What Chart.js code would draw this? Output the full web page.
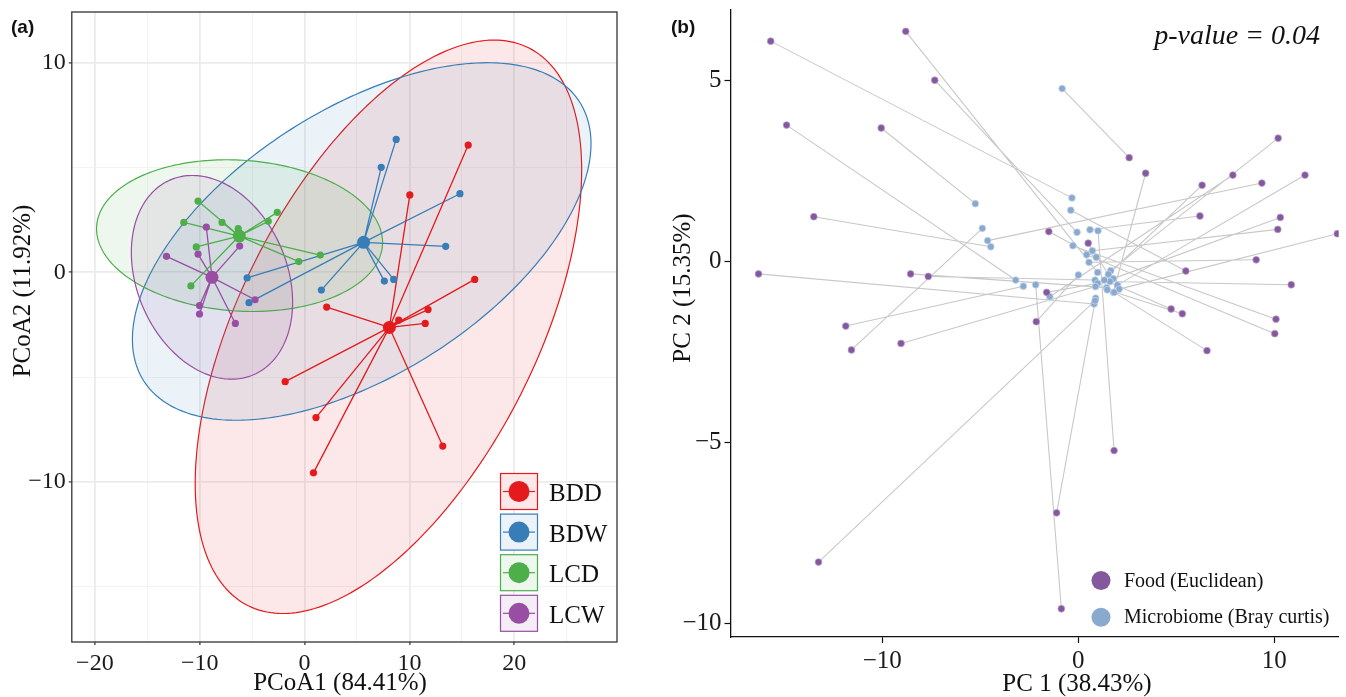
<!DOCTYPE html>
<html>
<head>
<meta charset="utf-8">
<script src="https://cdn.jsdelivr.net/npm/chart.js@4.4.1/dist/chart.umd.min.js"></script>
<style>
  html, body { margin: 0; padding: 0; background: #fff; overflow: hidden; }
  #wrapA { position: absolute; left: 0; top: 0; width: 640px; height: 697px; }
  #wrapB { position: absolute; left: 660px; top: 0; width: 686px; height: 697px; }
</style>
</head>
<body>
<div id="wrapA"><canvas id="chartA" width="640" height="697"></canvas></div>
<div id="wrapB"><canvas id="chartB" width="686" height="697"></canvas></div>
<script>
// ---- panel (a) data: PCoA of groups ----
const groupNames = ["BDD", "BDW", "LCD", "LCW"];
const groupColors = ["#E41A1C", "#377EB8", "#4DAF4A", "#984EA3"];

const bddX = [15.61, 10.04, 16.23, 2.11, 11.78, 11.51, 8.98, -1.85, 1.09, 13.18, 0.85];
const bddY = [6.07, 3.69, -0.34, -1.66, -1.78, -2.44, -2.28, -5.22, -6.93, -8.29, -9.57];
const bdwX = [8.74, 7.31, 14.82, 13.46, 7.61, 8.50, 1.60, -5.48, -5.30];
const bdwY = [6.34, 5.01, 3.75, 1.24, -0.42, -0.34, -0.85, -0.27, -1.45];
const lcdX = [-10.16, -11.52, -7.87, -6.33, -2.60, -3.46, -10.33, 1.50, -0.55, -10.84];
const lcdY = [3.40, 2.38, 2.38, 2.08, 2.86, 2.43, 1.21, 0.82, 0.51, -0.65];
const lcwX = [-9.37, -13.17, -10.16, -6.19, -4.72, -10.02, -10.02, -6.60];
const lcwY = [2.16, 0.76, 0.87, 1.25, -1.31, -1.59, -1.99, -2.44];

const centroidX = [8.09, 5.63, -6.23, -8.83];
const centroidY = [-2.63, 1.43, 1.73, -0.24];

// 95% ellipses: centre, half extents and correlation
const ellipseCX = [8.0, 5.45, -6.2, -8.83];
const ellipseCY = [-2.6, 1.47, 1.75, -0.24];
const ellipseSX = [18.43, 21.87, 13.64, 7.69];
const ellipseSY = [13.68, 8.53, 3.62, 4.86];
const ellipseR = [0.547, 0.547, -0.09, -0.244];

// ---- panel (b) data: procrustes food vs microbiome ----
const foodX = [-15.69, -8.80, -7.32, -14.88, -10.05, 2.60, 3.44, 10.20, 7.89, 11.57, 6.32, 9.37, 6.21, 10.31, 10.18, 13.22, -13.49, -1.50, 0.51, 9.08, 5.49, -16.31, -8.55, -7.65, 10.87, -1.61, 4.74, 5.31, -2.14, 10.09, 10.03, -11.86, -9.04, -11.57, 6.57, 1.83, -1.10, -13.25, -0.86];
const foodY = [6.09, 6.36, 5.01, 3.77, 3.69, 2.87, 2.44, 3.41, 2.39, 2.39, 2.11, 2.17, 1.26, 1.22, 0.89, 0.77, 1.24, 0.83, 0.51, 0.05, -0.26, -0.34, -0.34, -0.41, -0.64, -0.85, -1.31, -1.44, -1.66, -1.59, -1.99, -1.78, -2.26, -2.44, -2.46, -5.22, -6.94, -8.30, -9.59];
const microX = [-0.32, 0.99, -0.06, -3.19, -5.25, -0.82, 1.79, 1.66, -1.45, 2.00, 0.94, -4.62, 0.60, 1.79, 0.72, 2.09, -4.46, 0.92, 1.54, 0.55, -0.38, 0.81, 1.45, 0.86, 1.62, 0.99, 1.33, 1.48, 0.01, -0.27, 0.43, -2.80, 0.88, -4.89, 1.83, 1.01, 0.89, 0.86, -2.17];
const microY = [1.76, -0.30, 0.81, -0.51, 1.60, 4.78, -0.85, -0.25, -0.97, -0.65, -0.66, 0.58, 0.88, -0.47, 0.30, -0.76, 0.41, 0.12, -0.35, -0.02, 1.42, -1.17, -0.72, -0.51, -0.55, -0.60, -0.51, -0.78, -0.37, 0.44, 0.19, -0.68, -0.69, 0.92, -0.85, 0.85, -1.01, -1.08, -0.64];

const seriesNames = ["Food (Euclidean)", "Microbiome (Bray curtis)"];
const seriesColors = ["#84589C", "#8AA9CF"];
const pValueText = "p-value = 0.04";

const SERIF = "'Liberation Serif', 'Times New Roman', serif";
const minus = v => String(v).replace("-", "\u2212");

function toRgba(hex, a) {
  const n = parseInt(hex.slice(1), 16);
  return `rgba(${(n >> 16) & 255},${(n >> 8) & 255},${n & 255},${a})`;
}

// fixed axis sizes, no extra padding for overhanging labels
function fixY(w) {
  return s => { s.width = w; s.paddingTop = 0; s.paddingBottom = 0; };
}
function fixX(h) {
  return s => { s.height = h; s.paddingLeft = 0; s.paddingRight = 0; };
}

// ---------------- panel (a) ----------------
const groupX = [bddX, bdwX, lcdX, lcwX];
const groupY = [bddY, bdwY, lcdY, lcwY];

const datasetsA = [];
groupNames.forEach((name, g) => {
  // member points
  datasetsA.push({
    label: name,
    data: groupX[g].map((v, i) => ({ x: v, y: groupY[g][i] })),
    backgroundColor: groupColors[g],
    borderColor: groupColors[g],
    pointRadius: 3.6,
    pointBorderWidth: 0,
    order: 0
  });
  // centroid
  datasetsA.push({
    label: name + " centroid",
    data: [{ x: centroidX[g], y: centroidY[g] }],
    backgroundColor: groupColors[g],
    borderColor: groupColors[g],
    pointRadius: 6.5,
    pointBorderWidth: 0,
    order: 0
  });
  // spokes from centroid to each member
  const spokes = [];
  groupX[g].forEach((v, i) => {
    spokes.push({ x: centroidX[g], y: centroidY[g] }, { x: v, y: groupY[g][i] }, { x: NaN, y: NaN });
  });
  datasetsA.push({
    label: name + " spokes",
    data: spokes,
    showLine: true,
    borderColor: groupColors[g],
    borderWidth: 1.3,
    pointRadius: 0,
    order: 1
  });
});

const panelAPlugin = {
  id: "panelA",
  beforeDatasetsDraw(chart) {
    const { ctx, chartArea, scales: { x, y } } = chart;
    ctx.save();
    ctx.beginPath();
    ctx.rect(chartArea.left, chartArea.top, chartArea.width, chartArea.height);
    ctx.clip();
    groupNames.forEach((name, g) => {
      const phase = Math.acos(ellipseR[g]);
      ctx.beginPath();
      for (let k = 0; k <= 240; k++) {
        const t = (k / 240) * 2 * Math.PI;
        const px = x.getPixelForValue(ellipseCX[g] + ellipseSX[g] * Math.cos(t));
        const py = y.getPixelForValue(ellipseCY[g] + ellipseSY[g] * Math.cos(t + phase));
        if (k === 0) ctx.moveTo(px, py); else ctx.lineTo(px, py);
      }
      ctx.closePath();
      ctx.fillStyle = toRgba(groupColors[g], 0.1);
      ctx.fill();
      ctx.strokeStyle = groupColors[g];
      ctx.lineWidth = 1.2;
      ctx.stroke();
    });
    ctx.restore();
  },
  afterDraw(chart) {
    const { ctx, chartArea } = chart;
    ctx.save();
    // panel border
    ctx.strokeStyle = "#333";
    ctx.lineWidth = 1.3;
    ctx.strokeRect(chartArea.left, chartArea.top, chartArea.width, chartArea.height);

    // legend inside the panel
    groupNames.forEach((name, g) => {
      const bx = 500, by = 473 + g * 40.6, bw = 38, bh = 37;
      ctx.fillStyle = "#fff";
      ctx.fillRect(bx, by, bw, bh);
      ctx.fillStyle = toRgba(groupColors[g], 0.1);
      ctx.fillRect(bx, by, bw, bh);
      ctx.strokeStyle = groupColors[g];
      ctx.lineWidth = 1.2;
      ctx.strokeRect(bx + 0.5, by + 0.5, bw - 1, bh - 1);
      ctx.beginPath();
      ctx.moveTo(bx + 3, by + bh / 2);
      ctx.lineTo(bx + bw - 3, by + bh / 2);
      ctx.stroke();
      ctx.fillStyle = groupColors[g];
      ctx.beginPath();
      ctx.arc(bx + bw / 2, by + bh / 2, 10.5, 0, 2 * Math.PI);
      ctx.fill();
      ctx.fillStyle = "#111";
      ctx.font = "25px " + SERIF;
      ctx.textBaseline = "middle";
      ctx.textAlign = "left";
      ctx.fillText(name, 549, by + bh / 2 + 3);
    });

    // axis titles and tag
    ctx.fillStyle = "#111";
    ctx.font = "25px " + SERIF;
    ctx.textAlign = "center";
    ctx.textBaseline = "middle";
    ctx.fillText("PCoA1 (84.41%)", 340, 683);
    ctx.save();
    ctx.translate(23, 291);
    ctx.rotate(-Math.PI / 2);
    ctx.fillText("PCoA2 (11.92%)", 0, 0);
    ctx.restore();
    ctx.font = "bold 19px 'Liberation Sans', Arial, sans-serif";
    ctx.textAlign = "left";
    ctx.fillText("(a)", 11, 28);
    ctx.restore();
  }
};

const majorA = v => Math.abs(v % 10) < 1e-6;

new Chart(document.getElementById("chartA"), {
  type: "scatter",
  data: { datasets: datasetsA },
  options: {
    responsive: false,
    animation: false,
    layout: { padding: { top: 12, right: 23, left: 0, bottom: 0 } },
    plugins: { legend: { display: false }, tooltip: { enabled: false } },
    scales: {
      x: {
        type: "linear",
        min: -22.2,
        max: 29.8,
        afterFit: fixX(55),
        border: { display: false },
        grid: {
          color: c => majorA(c.tick.value) ? "#EBEBEB" : "#F2F2F2",
          lineWidth: c => majorA(c.tick.value) ? 1.8 : 0.9,
          tickColor: c => majorA(c.tick.value) ? "#333" : "rgba(0,0,0,0)",
          tickWidth: 1.2,
          tickLength: 3
        },
        ticks: {
          stepSize: 5,
          includeBounds: false,
          autoSkip: false,
          maxRotation: 0,
          padding: 4,
          color: "#1a1a1a",
          font: { family: SERIF, size: 24 },
          callback: v => majorA(v) ? minus(v) : ""
        }
      },
      y: {
        type: "linear",
        min: -17.64,
        max: 12.42,
        afterFit: fixY(71.8),
        border: { display: false },
        grid: {
          color: c => majorA(c.tick.value) ? "#EBEBEB" : "#F2F2F2",
          lineWidth: c => majorA(c.tick.value) ? 1.8 : 0.9,
          tickColor: c => majorA(c.tick.value) ? "#333" : "rgba(0,0,0,0)",
          tickWidth: 1.2,
          tickLength: 3
        },
        ticks: {
          stepSize: 5,
          includeBounds: false,
          autoSkip: false,
          padding: 3,
          color: "#1a1a1a",
          font: { family: SERIF, size: 24 },
          callback: v => majorA(v) ? minus(v) : ""
        }
      }
    }
  },
  plugins: [panelAPlugin]
});

// ---------------- panel (b) ----------------
const pairLines = [];
foodX.forEach((v, i) => {
  pairLines.push({ x: v, y: foodY[i] }, { x: microX[i], y: microY[i] }, { x: NaN, y: NaN });
});

const datasetsB = [
  {
    label: seriesNames[0],
    data: foodX.map((v, i) => ({ x: v, y: foodY[i] })),
    backgroundColor: seriesColors[0],
    borderColor: "rgba(190,160,205,0.9)",
    pointBorderWidth: 0.8,
    pointRadius: 3.4,
    order: 0
  },
  {
    label: seriesNames[1],
    data: microX.map((v, i) => ({ x: v, y: microY[i] })),
    backgroundColor: seriesColors[1],
    borderColor: "rgba(200,215,235,0.9)",
    pointBorderWidth: 0.8,
    pointRadius: 3.4,
    order: 1
  },
  {
    label: "links",
    data: pairLines,
    showLine: true,
    borderColor: "#C8C8C8",
    borderWidth: 1.1,
    pointRadius: 0,
    order: 2
  }
];

const panelBPlugin = {
  id: "panelB",
  afterDraw(chart) {
    const { ctx } = chart;
    ctx.save();
    // legend
    seriesNames.forEach((name, i) => {
      const cy = 580.5 + i * 36.7;
      ctx.fillStyle = seriesColors[i];
      ctx.beginPath();
      ctx.arc(441, cy, 9.5, 0, 2 * Math.PI);
      ctx.fill();
      ctx.fillStyle = "#111";
      ctx.font = "20px " + SERIF;
      ctx.textAlign = "left";
      ctx.textBaseline = "middle";
      ctx.fillText(name, 464, cy + 1);
    });
    // p-value
    ctx.font = "italic 28px " + SERIF;
    ctx.textAlign = "right";
    ctx.textBaseline = "alphabetic";
    ctx.fillText(pValueText, 660, 44);
    // axis titles
    ctx.font = "25px " + SERIF;
    ctx.textAlign = "center";
    ctx.textBaseline = "middle";
    ctx.fillText("PC 1 (38.43%)", 417, 684);
    ctx.save();
    ctx.translate(23, 288);
    ctx.rotate(-Math.PI / 2);
    ctx.fillText("PC 2 (15.35%)", 0, 0);
    ctx.restore();
    // tag
    ctx.font = "bold 19px 'Liberation Sans', Arial, sans-serif";
    ctx.textAlign = "left";
    ctx.fillText("(b)", 11, 28);
    ctx.restore();
  }
};

new Chart(document.getElementById("chartB"), {
  type: "scatter",
  data: { datasets: datasetsB },
  options: {
    responsive: false,
    animation: false,
    layout: { padding: { top: 10, right: 7.3, left: 0, bottom: 0 } },
    plugins: { legend: { display: false }, tooltip: { enabled: false } },
    scales: {
      x: {
        type: "linear",
        min: -17.74,
        max: 13.29,
        afterFit: fixX(60),
        border: { display: true, color: "#111", width: 1.3 },
        grid: { drawOnChartArea: false, tickColor: "#111", tickWidth: 1.2, tickLength: 6 },
        ticks: {
          stepSize: 10,
          includeBounds: false,
          autoSkip: false,
          maxRotation: 0,
          padding: 3,
          color: "#1a1a1a",
          font: { family: SERIF, size: 25 },
          callback: v => minus(v)
        }
      },
      y: {
        type: "linear",
        min: -10.37,
        max: 6.95,
        afterFit: fixY(70.5),
        border: { display: true, color: "#111", width: 1.3 },
        grid: { drawOnChartArea: false, tickColor: "#111", tickWidth: 1.2, tickLength: 6 },
        ticks: {
          stepSize: 5,
          includeBounds: false,
          autoSkip: false,
          padding: 3,
          color: "#1a1a1a",
          font: { family: SERIF, size: 25 },
          callback: v => minus(v)
        }
      }
    }
  },
  plugins: [panelBPlugin]
});
</script>
</body>
</html>
